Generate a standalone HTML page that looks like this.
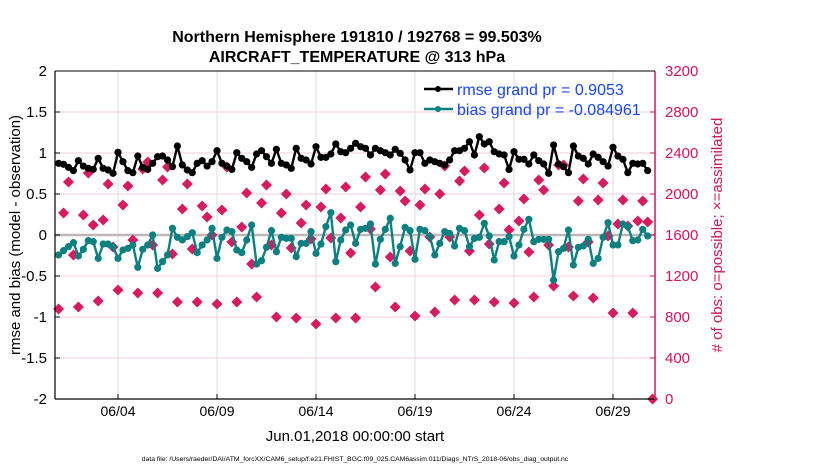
<!DOCTYPE html>
<html><head><meta charset="utf-8"><style>
body{margin:0;background:#fff;}
svg{display:block;font-family:"Liberation Sans",sans-serif;}
</style></head><body>
<svg id="chart" width="830" height="470">
<text x="357" y="42" text-anchor="middle" font-size="16" font-weight="bold">Northern Hemisphere 191810 / 192768 = 99.503%</text>
<text x="357" y="62" text-anchor="middle" font-size="16" font-weight="bold">AIRCRAFT_TEMPERATURE @ 313 hPa</text>
<text transform="translate(20,235) rotate(-90)" text-anchor="middle" font-size="15">rmse and bias (model - observation)</text>
<text transform="translate(722,235) rotate(-90)" text-anchor="middle" font-size="15" fill="#d6145c"># of obs: o=possible; ×=assimilated</text>
<text x="355" y="441" text-anchor="middle" font-size="15">Jun.01,2018 00:00:00 start</text>
<text x="355" y="461" text-anchor="middle" font-size="6.8">data file: /Users/raeder/DAI/ATM_forcXX/CAM6_setup/f.e21.FHIST_BGC.f09_025.CAM6assim.011/Diags_NTrS_2018-06/obs_diag_output.nc</text>
<g id="grid"></g><g id="obsg"></g><g id="lines"></g><g id="axes"></g>
<g id="legend">
<line x1="424" y1="89" x2="453" y2="89" stroke="#000" stroke-width="2.5"/><circle cx="438" cy="89" r="3" fill="#000"/>
<text x="457" y="95" font-size="16" fill="#1646f5">rmse grand pr = 0.9053</text>
<line x1="424" y1="109" x2="453" y2="109" stroke="#0a8080" stroke-width="2.5"/><circle cx="438" cy="109" r="3" fill="#0a8080"/>
<text x="457" y="115" font-size="16" fill="#1646f5">bias grand pr = -0.084961</text>
</g>
</svg>
<script>
const rmse=[.874,.862,.825,.785,.906,.841,.813,.801,.935,.813,.793,.752,1.008,.894,.785,.76,.963,.825,.80,.874,.955,.963,.915,.833,1.085,.854,.793,.76,.874,.906,
.841,.894,1.028,.874,.841,.80,1.004,.935,.894,.825,.988,1.028,.955,.874,1.045,.874,.854,.813,1.057,.935,.915,.866,1.077,.947,.947,.988,1.11,1.016,1.004,1.057,
1.118,1.077,1.057,.976,1.057,1.028,1.004,.976,1.045,.996,.915,.793,1.004,1.004,.874,.915,.894,.874,.854,.915,1.028,1.028,1.057,1.138,.976,1.199,1.11,1.138,1.016,.988,
.976,.80,1.016,.923,.923,.866,.976,.906,.866,.752,1.098,.866,.833,.76,1.085,.963,.935,.866,.988,.947,.894,.841,1.069,.963,.923,.76,.874,.866,.874,.785];
const bias=[-.244,-.191,-.142,-.093,-.256,-.175,-.069,-.081,-.285,-.110,-.110,-.142,-.285,-.183,-.163,-.122,-.394,-.175,-.122,0,-.407,-.325,-.244,.081,-.028,-.061,-.020,.028,-.215,-.122,
-.061,.081,-.285,-.028,.061,.041,-.183,-.215,-.061,.122,-.354,-.313,-.150,.053,-.203,-.028,-.041,-.041,-.264,-.102,-.102,.041,-.224,-.110,.102,.272,-.325,-.061,.061,.122,
-.102,.069,.081,.134,-.354,-.053,.069,.203,-.346,-.142,.093,.053,-.297,.069,.053,-.020,-.244,-.102,.041,.020,-.134,.081,.053,-.142,-.041,-.028,.142,-.012,-.305,-.081,
-.081,-.020,-.256,-.122,.069,.191,-.081,-.053,-.053,-.053,-.549,-.203,-.163,.061,-.366,-.150,-.134,-.053,-.346,-.285,-.028,.150,-.122,-.122,.134,.102,-.069,-.061,.069,-.012];
const obsCount=[878,1815,2117,1405,898,1795,2205,1698,956,1746,2097,1483,1063,1893,2078,1551,1034,2244,2312,1502,1034,2136,2263,1415,946,1854,2097,1463,946,1883,
1776,1600,927,1844,2263,1532,946,1678,2010,1317,995,1912,2088,1502,800,1815,2000,1473,790,1717,1893,1561,732,1873,2049,1571,790,1766,2068,1424,
790,1873,2166,1659,1093,2039,2195,1385,898,2029,1932,1444,810,1893,2049,1580,849,2000,2273,1580,966,2127,2224,1444,966,1795,2254,1512,946,1854,
2107,1650,936,1737,1951,1434,995,2136,2039,1502,1102,2283,2283,1483,1005,1932,2146,1532,985,1941,2107,1590,839,1707,1941,1688,839,1737,1932,1727,0];
const leftTicks=[-2,-1.5,-1,-0.5,0,0.5,1,1.5,2];
const rightTicks=[0,400,800,1200,1600,2000,2400,2800,3200];
const xTickDays=[3,8,13,18,23,28];
const xTickLabels=["06/04","06/09","06/14","06/19","06/24","06/29"];
const stepDays=0.25;

const L=55,R=655,T=71,B=399;
const xs=d=>58.6+19.8*d;
const yl=v=>235-82*v;
const yr=v=>B-(v/3200)*(B-T);
const NS="http://www.w3.org/2000/svg";
function mk(tag,attrs,parent){const e=document.createElementNS(NS,tag);for(const k in attrs)e.setAttribute(k,attrs[k]);parent.appendChild(e);return e;}
const grid=document.getElementById('grid'),axes=document.getElementById('axes'),lines=document.getElementById('lines'),obsg=document.getElementById('obsg');
mk('rect',{x:L,y:T,width:R-L,height:B-T,fill:'#fff'},grid);
xTickDays.forEach((d,i)=>{
  mk('line',{x1:xs(d),y1:T,x2:xs(d),y2:B,stroke:'#dcdcdc','stroke-width':1},grid);
  const t=mk('text',{x:xs(d),y:416,'text-anchor':'middle','font-size':14},axes);t.textContent=xTickLabels[i];
  
  
  mk('line',{x1:xs(d),y1:B,x2:xs(d),y2:B-5,stroke:'#000'},axes);
});
rightTicks.forEach(v=>{
  if(v>0&&v<3200)mk('line',{x1:L,y1:yr(v),x2:R,y2:yr(v),stroke:'#f3cbd8','stroke-width':1},grid);
  const t=mk('text',{x:R+10,y:yr(v)+5,'font-size':15,fill:'#d6145c'},axes);t.textContent=v;
  
  
  mk('line',{x1:R,y1:yr(v),x2:R-5,y2:yr(v),stroke:'#d6145c'},axes);
});
mk('line',{x1:L,y1:yl(0),x2:R,y2:yl(0),stroke:'#c0b6b8','stroke-width':2.5},grid);
leftTicks.forEach(v=>{
  const t=mk('text',{x:47,y:yl(v)+5,'text-anchor':'end','font-size':15},axes);t.textContent=String(v);
  
  
  mk('line',{x1:L,y1:yl(v),x2:L+5,y2:yl(v),stroke:'#000'},axes);
});
mk('line',{x1:L,y1:T,x2:L,y2:B,stroke:'#000','stroke-width':1.2},axes);
mk('line',{x1:L,y1:B,x2:R,y2:B,stroke:'#000','stroke-width':1.2},axes);
mk('line',{x1:R,y1:T,x2:R,y2:B,stroke:'#d6145c','stroke-width':1.5},axes);
mk('line',{x1:L,y1:T,x2:R,y2:T,stroke:'#000','stroke-width':1},axes);

obsCount.forEach((v,i)=>{
  const x=xs(i*stepDays),y=yr(v);
  const p=mk('path',{d:`M${x-5.5},${y}L${x},${y-5.5}L${x+5.5},${y}L${x},${y+5.5}Z`,fill:'#d81b60'},obsg);
  
  
});
function series(arr,color,name){
  const pts=arr.map((v,i)=>xs(i*stepDays)+','+yl(v)).join(' ');
  const pl=mk('polyline',{points:pts,fill:'none',stroke:color,'stroke-width':2.4},lines);
  
  
  arr.forEach((v,i)=>{
    const c=mk('circle',{cx:xs(i*stepDays),cy:yl(v),r:3.6,fill:color},lines);
    
    
  });
}
series(bias,'#0a8080','bias');
series(rmse,'#000','rmse');
</script>
</body></html>
